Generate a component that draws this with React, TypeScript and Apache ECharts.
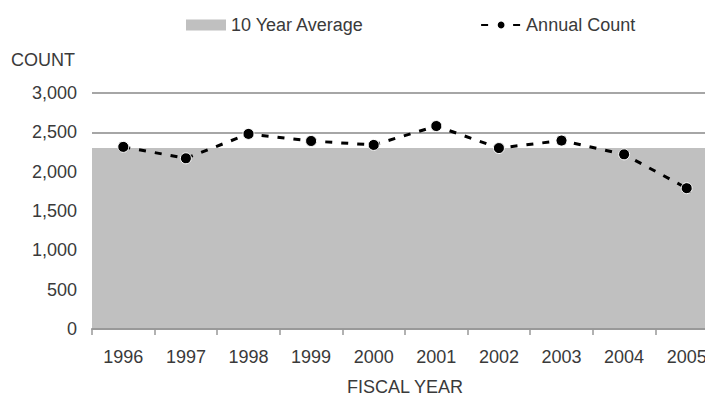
import React, { useEffect, useRef } from "react";
import * as echarts from "echarts";

const years = ["1996", "1997", "1998", "1999", "2000", "2001", "2002", "2003", "2004", "2005"];
const annualCount = [2315, 2170, 2480, 2390, 2340, 2580, 2300, 2395, 2220, 1790];
const tenYearAverage = [2300, 2300];
const averageSpan = [0, 10];

export default function App() {
  const ref = useRef<HTMLDivElement>(null);
  useEffect(() => {
    if (!ref.current) return;
    const chart = echarts.init(ref.current, null, { renderer: "svg" });
    const font = "'Liberation Sans', Arial, sans-serif";
    const txt = "#3a3a3a";
    chart.setOption({
      animation: false,
      textStyle: { fontFamily: font },
      title: {
        text: "COUNT",
        left: 11,
        top: 51,
        padding: 0,
        textStyle: { fontFamily: font, fontSize: 18, fontWeight: "normal", color: txt },
      },
      legend: {
        left: 181,
        top: 11,
        itemGap: 116,
        itemWidth: 40,
        itemHeight: 11,
        textStyle: { fontFamily: font, fontSize: 18, color: txt },
        data: [
          { name: "10 Year Average", icon: "rect" },
          { name: "Annual Count" },
        ],
      },
      grid: { left: 92, right: 12, top: 93, bottom: 66, containLabel: false },
      xAxis: [
        {
          type: "category",
          data: years,
          boundaryGap: true,
          name: "FISCAL YEAR",
          nameLocation: "middle",
          nameGap: 49,
          nameTextStyle: { fontFamily: font, fontSize: 18, color: txt },
          axisLine: { lineStyle: { color: "#999", width: 2 } },
          axisTick: { show: true, length: 6, lineStyle: { color: "#999", width: 1.5 } },
          axisLabel: { margin: 19, fontFamily: font, fontSize: 18, color: txt },
          z: 10,
        },
        {
          type: "value",
          min: averageSpan[0],
          max: averageSpan[1],
          show: false,
        },
      ],
      yAxis: {
        type: "value",
        min: 0,
        max: 3000,
        interval: 500,
        axisLine: { show: false },
        axisTick: { show: false },
        axisLabel: {
          margin: 15,
          fontFamily: font,
          fontSize: 18,
          color: txt,
          formatter: (v: number) => v.toLocaleString("en-US"),
        },
        splitLine: { lineStyle: { color: "#a6a6a6", width: 2 } },
      },
      series: [
        {
          name: "10 Year Average",
          type: "line",
          xAxisIndex: 1,
          data: averageSpan.map((x, i) => [x, tenYearAverage[i]]),
          symbol: "none",
          lineStyle: { width: 0, color: "#c0c0c0" },
          itemStyle: { color: "#c0c0c0" },
          areaStyle: { color: "#c0c0c0", opacity: 1 },
          z: 1,
        },
        {
          name: "Annual Count",
          type: "line",
          data: annualCount,
          symbol: "circle",
          symbolSize: 11,
          lineStyle: { color: "#000", width: 3, type: [7, 9] },
          itemStyle: { color: "#000", borderColor: "#fff", borderWidth: 1 },
          z: 5,
        },
      ],
    });
    return () => chart.dispose();
  }, []);
  return (
    <div style={{ position: "absolute", left: 0, top: 0, width: 705, height: 401, overflow: "hidden" }}>
      <div ref={ref} style={{ width: 730, height: 401 }} />
    </div>
  );
}
